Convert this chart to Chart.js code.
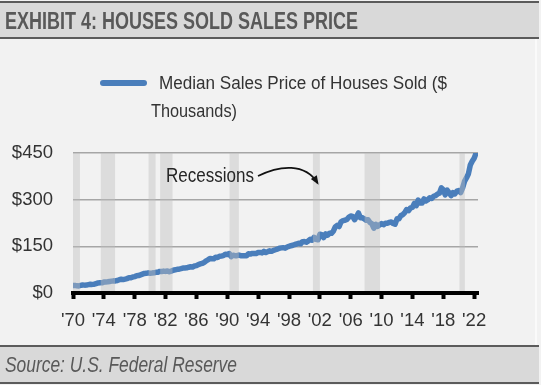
<!DOCTYPE html>
<html><head><meta charset="utf-8">
<script src="https://cdn.jsdelivr.net/npm/chart.js@4"></script>
<style>
html,body{margin:0;padding:0;}
body{width:541px;height:385px;background:#f2f2f2;position:relative;overflow:hidden;font-family:'Liberation Sans Narrow','Liberation Sans',Arial,sans-serif;}
#hdr{position:absolute;left:0;top:1px;width:539px;height:34px;background:#d9d9d9;border-top:2px solid #5b5b5b;border-bottom:2px solid #5b5b5b;}
#ftr{position:absolute;left:0;top:345px;width:539px;height:35px;background:#d9d9d9;border-top:2px solid #5b5b5b;border-bottom:2px solid #5b5b5b;}
#edge{position:absolute;left:535px;top:39px;width:2px;height:306px;background:#fafafa;}
.t{position:absolute;white-space:nowrap;transform-origin:0 0;line-height:1;}
.bl{display:inline-block;width:0;height:0;vertical-align:baseline;}
#c{position:absolute;left:0;top:0;}
#legline{position:absolute;left:100px;top:80px;width:47px;height:6px;border-radius:3px;background:#4a7ebb;}
</style></head><body>
<div id="hdr"></div><div id="ftr"></div><div id="edge"></div>
<canvas id="c" width="541" height="385"></canvas>
<div id="legline"></div>
<div class="t" id="title" style="font-weight:bold;font-size:23px;color:#595959">EXHIBIT 4: HOUSES SOLD SALES PRICE<span class="bl"></span></div>
<div class="t" id="leg1" style="font-size:17.5px;color:#333">Median Sales Price of Houses Sold ($<span class="bl"></span></div>
<div class="t" id="leg2" style="font-size:17.5px;color:#333">Thousands)<span class="bl"></span></div>
<div class="t" id="rec" style="font-size:21px;color:#262626">Recessions<span class="bl"></span></div>
<div class="t" id="src" style="font-style:italic;font-size:22px;color:#595959">Source: U.S. Federal Reserve<span class="bl"></span></div>
<script>
// Quarterly median sales price of houses sold ($ thousands), 1970 Q1 onward
const startYear = 1970;
const prices = [
 23.9,24.4,23.0,22.6, 24.3,25.8,25.3,25.5, 26.8,27.9,27.7,28.3, 30.3,32.3,33.0,32.8,
 35.0,35.6,36.2,37.2, 38.1,39.0,38.8,40.3, 42.8,44.2,43.1,44.6, 46.3,48.9,48.8,51.6,
 52.6,55.3,56.1,58.3, 60.6,62.9,63.3,64.8, 63.7,64.0,64.9,66.4, 66.8,69.4,69.2,70.4,
 69.4,71.0,68.3,70.4, 73.3,74.6,76.2,76.6, 78.2,80.0,80.3,80.9, 82.8,84.3,83.2,86.8,
 88.0,91.5,93.6,95.3, 97.9,103.4,106.6,111.0, 110.0,110.0,115.0,113.9, 118.0,118.9,120.0,124.8,
 123.9,126.8,117.0,121.5, 120.0,119.9,121.9,120.0, 119.5,120.0,120.0,126.0, 125.0,127.0,127.0,127.0,
 130.0,130.4,128.8,133.9, 130.0,133.0,135.5,134.0, 137.0,139.0,141.0,144.0, 145.0,145.8,144.2,147.8,
 150.0,152.0,153.5,156.0, 157.4,160.0,158.0,165.0, 165.3,163.2,167.5,172.9, 169.8,179.0,172.5,171.1,
 188.7,187.2,178.1,190.1, 186.0,191.8,191.9,198.8, 212.7,217.6,213.5,228.8, 232.5,233.7,236.4,243.6,
 247.7,246.3,235.6,245.4, 257.4,242.2,241.8,238.4, 233.9,235.3,226.5,222.5, 208.4,220.9,214.3,219.0,
 222.9,219.5,224.1,224.3, 226.9,228.1,223.5,221.1, 238.4,238.7,248.8,251.7, 258.4,268.1,264.8,273.6,
 275.2,288.0,281.0,298.9, 289.2,289.1,302.5,295.8, 299.8,306.0,303.8,310.9, 313.1,318.2,320.5,337.9,
 331.8,315.6,330.9,322.8, 313.0,322.5,318.4,327.1, 329.0,322.6,337.5,358.7, 369.8,382.6,411.2,423.6,
 433.1,449.3
];
const tickYears = [1970,1974,1978,1982,1986,1990,1994,1998,2002,2006,2010,2014,2018,2022];
const tickLabels = ["'70","'74","'78","'82","'86","'90","'94","'98","'02","'06","'10","'14","'18","'22"];
const yTicks = [0,150,300,450];
const recStart = [1970.0,1973.6,1979.8,1981.3,1990.3,2001.1,2007.8,2020.1];
const recEnd   = [1970.9,1975.45,1980.7,1982.9,1991.5,2002.0,2009.8,2020.8];
// annotation anchors in data units
const recLabelAt = [1982.0, 357.8];
const arrowPath = [[1993.98,376],[1996.83,411],[2000.08,418],[2001.7,353.6]];

const FONT = "'Liberation Sans Narrow','Liberation Sans',Arial,sans-serif";

const overlay = {
  id:'overlay',
  afterDatasetsDraw(chart){
    const {ctx, chartArea:a, scales:{x,y}} = chart;
    ctx.save();
    ctx.fillStyle='rgba(190,190,190,0.43)';
    for(let i=0;i<recStart.length;i++){
      const x0=x.getPixelForValue(recStart[i]), x1=x.getPixelForValue(recEnd[i]);
      ctx.fillRect(x0, a.top, x1-x0, a.bottom-a.top-2);
    }
    const p = arrowPath.map(q=>[x.getPixelForValue(q[0]), y.getPixelForValue(q[1])]);
    ctx.strokeStyle='#111'; ctx.lineWidth=1.6;
    ctx.beginPath(); ctx.moveTo(p[0][0],p[0][1]);
    ctx.bezierCurveTo(p[1][0],p[1][1],p[2][0],p[2][1],p[3][0],p[3][1]);
    ctx.stroke();
    const ang=Math.atan2(p[3][1]-p[2][1], p[3][0]-p[2][0]);
    const L=7, W=3.5;
    ctx.fillStyle='#111';
    ctx.beginPath();
    ctx.moveTo(p[3][0]+Math.cos(ang)*2,p[3][1]+Math.sin(ang)*2);
    ctx.lineTo(p[3][0]-Math.cos(ang)*L+Math.sin(ang)*W, p[3][1]-Math.sin(ang)*L-Math.cos(ang)*W);
    ctx.lineTo(p[3][0]-Math.cos(ang)*L-Math.sin(ang)*W, p[3][1]-Math.sin(ang)*L+Math.cos(ang)*W);
    ctx.closePath(); ctx.fill();
    ctx.restore();
  }
};

const chart = new Chart(document.getElementById('c'), {
  type:'line',
  data:{ datasets:[{
    label:'Median Sales Price of Houses Sold ($ Thousands)',
    data: prices.map((v,i)=>({x:startYear+i/4, y:v})),
    borderColor:'#4a7ebb', borderWidth:5.5, pointRadius:0, tension:0,
    borderJoinStyle:'round', borderCapStyle:'round', fill:false
  }]},
  options:{
    responsive:false, animation:false, devicePixelRatio:1,
    layout:{padding:{top:153,right:63,bottom:52,left:0}},
    plugins:{legend:{display:false}, tooltip:{enabled:false}},
    scales:{
      x:{type:'linear', min:1970, max:2022.5,
        afterBuildTicks:s=>{ s.ticks = tickYears.map(v=>({value:v})); },
        afterFit:s=>{ s.height=40; },
        ticks:{autoSkip:false, maxRotation:0, minRotation:0, padding:11, color:'#333',
          font:{family:FONT, size:18.5}, callback:(v,i)=>tickLabels[i]},
        grid:{display:true, drawOnChartArea:false, drawTicks:true, tickLength:6, tickWidth:4, tickColor:'#000', color:'#000'},
        border:{display:true, color:'#000', width:4}
      },
      y:{min:0, max:450,
        afterBuildTicks:s=>{ s.ticks = yTicks.map(v=>({value:v})); },
        afterFit:s=>{ s.width=73; },
        ticks:{padding:20, color:'#333', font:{family:FONT, size:18.5}, callback:v=>'$'+v},
        grid:{color:'#a6a6a6', lineWidth:1.5, drawTicks:false},
        border:{display:false}
      }
    }
  },
  plugins:[overlay]
});

function place(id, left, baseline, width){
  const el=document.getElementById(id);
  el.style.left=left+'px'; el.style.top='0px';
  const r=el.getBoundingClientRect();
  const b=el.querySelector('.bl').getBoundingClientRect().top - r.top;
  el.style.top=(baseline-b)+'px';
  if(width) el.style.transform='scaleX('+(width/r.width)+')';
}
place('title',5,28.5,353);
place('leg1',159,88.5,288);
place('leg2',151,116.7,86);
place('src',5,372.3,232);
const xs=chart.scales.x, ys=chart.scales.y;
place('rec', xs.getPixelForValue(recLabelAt[0]), ys.getPixelForValue(recLabelAt[1]), 88);
</script>
</body></html>
